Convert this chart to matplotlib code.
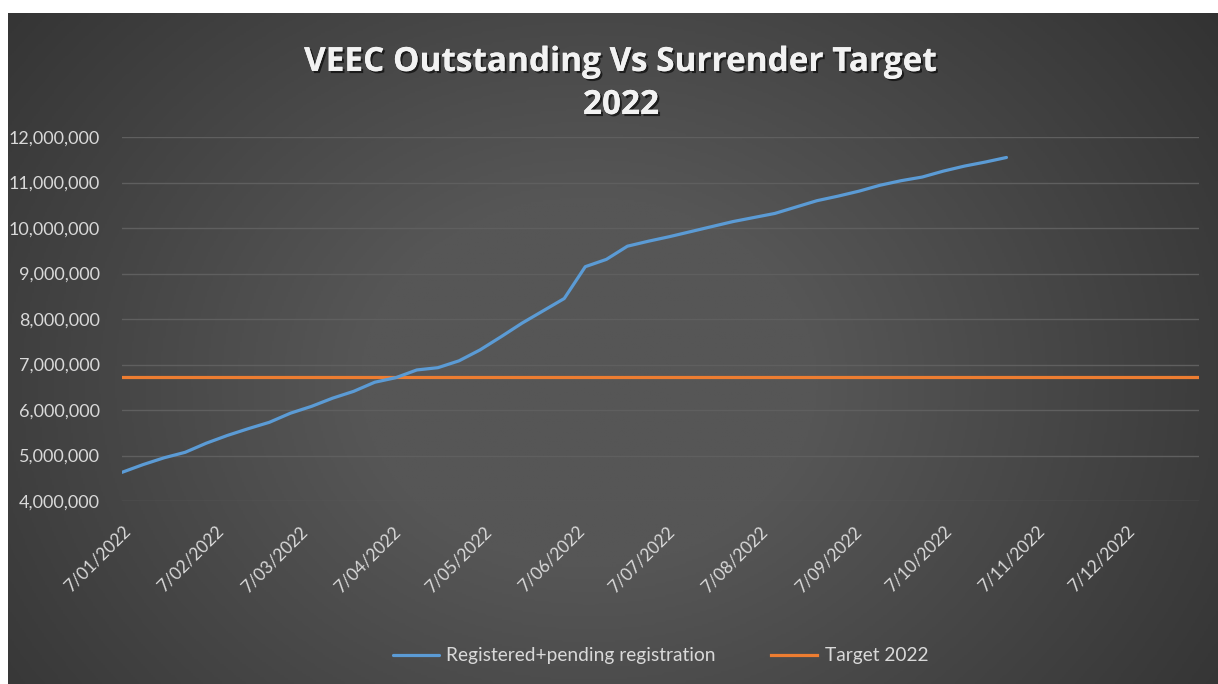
import matplotlib
matplotlib.use('Agg')
import matplotlib.pyplot as plt
import matplotlib.patheffects as pe
import matplotlib.ticker as mticker
import numpy as np
import pandas as pd

# weekly readings, first one on 7 Jan 2022
start_date = '2022-01-07'
outstanding = [4.63, 4.80, 4.95, 5.07, 5.27, 5.44, 5.59, 5.73, 5.93, 6.08,
               6.26, 6.41, 6.61, 6.71, 6.88, 6.93, 7.08, 7.32, 7.61, 7.91,
               8.18, 8.45, 9.15, 9.31, 9.60, 9.71, 9.81, 9.92, 10.03, 10.14,
               10.23, 10.32, 10.46, 10.60, 10.70, 10.81, 10.94, 11.04, 11.12, 11.25,
               11.36, 11.45, 11.55]
outstanding = [v * 1e6 for v in outstanding]
target_2022 = 6715000

dates = pd.date_range(start_date, periods=len(outstanding), freq='7D')
tick_dates = [pd.Timestamp(2022, m, 7) for m in range(1, 13)]
tick_labels = ['7/%02d/2022' % m for m in range(1, 13)]

W, H = 1218, 684
fig = plt.figure(figsize=(W / 100, H / 100), dpi=100)
fig.patch.set_facecolor('white')

# dark gradient background
bg = fig.add_axes([8 / W, 0, (W - 8) / W, (H - 13) / H])
yy, xx = np.mgrid[0:1:300j, 0:1:600j]
r = np.sqrt(((xx - 0.48) / 0.75) ** 2 + ((yy - 0.55) / 1.1) ** 2)
grad = np.clip(1 - r, 0, 1)
bg.imshow(grad, cmap=matplotlib.colors.LinearSegmentedColormap.from_list('g', ['#2a2a2a', '#565656']),
          aspect='auto', extent=[0, 1, 0, 1], vmin=0, vmax=0.75)
bg.axis('off')

ax = fig.add_axes([122 / W, (H - 501) / H, (1199 - 122) / W, (501 - 137) / H])
ax.patch.set_alpha(0)

ax.plot(dates, outstanding, color='#5B9BD5', lw=2.3, label='Registered+pending registration',
        solid_capstyle='round', zorder=3)
ax.axhline(target_2022, color='#ED7D31', lw=2.3, label='Target 2022', zorder=2)

ax.set_xlim(pd.Timestamp('2022-01-07'), pd.Timestamp('2022-12-31'))
ax.set_ylim(4e6, 12e6)
ax.yaxis.set_major_locator(mticker.MultipleLocator(1e6))
ax.yaxis.set_major_formatter(mticker.FuncFormatter(lambda v, p: '{:,.0f}'.format(v)))
ax.grid(axis='y', color='#5f5f5f', lw=1)
ax.set_axisbelow(True)
for s in ax.spines.values():
    s.set_visible(False)

ax.set_xticks(tick_dates)
ax.set_xticklabels(tick_labels, rotation=45, ha='right', rotation_mode='anchor')
ax.tick_params(axis='both', length=0, colors='#d9d9d9')
ax.tick_params(axis='x', pad=16, labelsize=12.5)
ax.tick_params(axis='y', pad=16, labelsize=13)
for lab in ax.get_xticklabels() + ax.get_yticklabels():
    lab.set_family('Lato')

fig.text(621 / W, 1 - 84 / H, 'VEEC Outstanding Vs Surrender Target\n2022', ha='center', va='center',
         fontsize=24, fontweight='bold', color='#f2f2f2', family='Open Sans', linespacing=1.4,
         path_effects=[pe.withSimplePatchShadow(offset=(1.5, -1.5), shadow_rgbFace='black', alpha=0.6),
                       pe.Normal()])

leg = ax.legend(loc='center', bbox_to_anchor=(0.5, (H - 656 - (H - 501)) / (501 - 137)),
                bbox_transform=ax.transAxes, ncol=2, frameon=False, handlelength=2.4,
                handletextpad=0.4, columnspacing=2.9, prop={'family': 'Lato', 'size': 13.8})
for t in leg.get_texts():
    t.set_color('#d9d9d9')

fig.savefig('out.png', dpi=100)
